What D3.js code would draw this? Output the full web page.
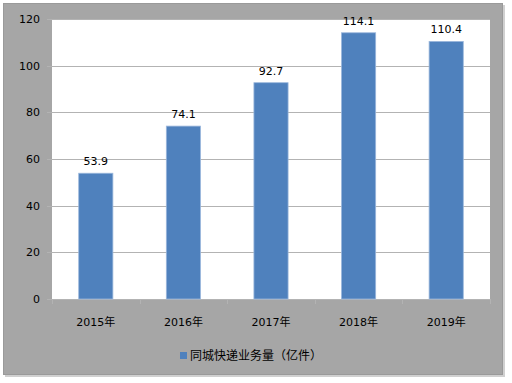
<!DOCTYPE html>
<html>
<head>
<meta charset="utf-8">
<script src="https://cdn.jsdelivr.net/npm/d3@7/dist/d3.min.js"></script>
<style>
  html, body { margin: 0; padding: 0; background: #fff; }
  text { font-family: "DejaVu Sans", "Noto Sans CJK SC", sans-serif; }
</style>
</head>
<body>
<div id="chart"></div>
<script>
// data
var years = ["2015年", "2016年", "2017年", "2018年", "2019年"];
var volumes = [53.9, 74.1, 92.7, 114.1, 110.4];
var yTicks = [0, 20, 40, 60, 80, 100, 120];
var seriesName = "同城快递业务量（亿件）";

var W = 512, H = 383;
var plot = {left: 52, right: 490, top: 19, bottom: 299};

var svg = d3.select("#chart").append("svg")
    .attr("width", W)
    .attr("height", H);

// outer frame with a light shadow
svg.append("rect")
    .attr("x", 5).attr("y", 5)
    .attr("width", 500).attr("height", 372)
    .attr("fill", "#d0d0d0");
svg.append("rect")
    .attr("x", 3.5).attr("y", 3.5)
    .attr("width", 499).attr("height", 371)
    .attr("fill", "#a6a6a6")
    .attr("stroke", "#9a9a9a")
    .attr("stroke-width", 1);

// plot area
svg.append("rect")
    .attr("x", plot.left).attr("y", plot.top)
    .attr("width", plot.right - plot.left)
    .attr("height", plot.bottom - plot.top)
    .attr("fill", "#ffffff");

var x = d3.scaleBand()
    .domain(years)
    .range([plot.left, plot.right])
    .padding(0);

var y = d3.scaleLinear()
    .domain([0, 120])
    .range([plot.bottom, plot.top]);

// gridlines
svg.selectAll("line.grid")
    .data(yTicks)
    .enter()
    .append("line")
    .attr("class", "grid")
    .attr("x1", plot.left - 5)
    .attr("x2", plot.right)
    .attr("y1", function (d) { return Math.round(y(d)) + 0.5; })
    .attr("y2", function (d) { return Math.round(y(d)) + 0.5; })
    .attr("stroke", "#b3b3b3")
    .attr("stroke-width", 1);

// y labels
svg.selectAll("text.ylab")
    .data(yTicks)
    .enter()
    .append("text")
    .attr("class", "ylab")
    .attr("x", 40)
    .attr("y", function (d) { return y(d) + 4; })
    .attr("text-anchor", "end")
    .attr("font-size", "11px")
    .attr("fill", "#000")
    .text(function (d) { return d; });

// x axis ticks (band edges)
var edges = years.map(function (d) { return x(d); }).concat([x(years[years.length - 1]) + x.bandwidth()]);
svg.selectAll("line.xtick")
    .data(edges)
    .enter()
    .append("line")
    .attr("class", "xtick")
    .attr("x1", function (d) { return Math.round(d) + 0.5; })
    .attr("x2", function (d) { return Math.round(d) + 0.5; })
    .attr("y1", plot.bottom)
    .attr("y2", plot.bottom + 5)
    .attr("stroke", "#b3b3b3");

// bars
var barW = x.bandwidth() * 0.39;
svg.selectAll("rect.bar")
    .data(volumes)
    .enter()
    .append("rect")
    .attr("class", "bar")
    .attr("x", function (d, i) { return x(years[i]) + (x.bandwidth() - barW) / 2; })
    .attr("y", function (d) { return y(d); })
    .attr("width", barW)
    .attr("height", function (d) { return y(0) - y(d); })
    .attr("fill", "#4f81bd")
    .attr("stroke", "#9bb7dc")
    .attr("stroke-width", 0.8);

// value labels
svg.selectAll("text.val")
    .data(volumes)
    .enter()
    .append("text")
    .attr("class", "val")
    .attr("x", function (d, i) { return x(years[i]) + x.bandwidth() / 2; })
    .attr("y", function (d) { return y(d) - 8; })
    .attr("text-anchor", "middle")
    .attr("font-size", "11px")
    .attr("fill", "#000")
    .text(function (d) { return d; });

// x labels
svg.selectAll("text.xlab")
    .data(years)
    .enter()
    .append("text")
    .attr("class", "xlab")
    .attr("x", function (d) { return x(d) + x.bandwidth() / 2; })
    .attr("y", 326)
    .attr("text-anchor", "middle")
    .attr("font-size", "11px")
    .attr("fill", "#000")
    .text(function (d) { return d; });

// legend
svg.append("rect")
    .attr("x", 180).attr("y", 352)
    .attr("width", 7).attr("height", 7)
    .attr("fill", "#4f81bd");
svg.append("text")
    .attr("x", 190)
    .attr("y", 360)
    .attr("font-size", "12px")
    .attr("fill", "#000")
    .text(seriesName);
</script>
</body>
</html>
